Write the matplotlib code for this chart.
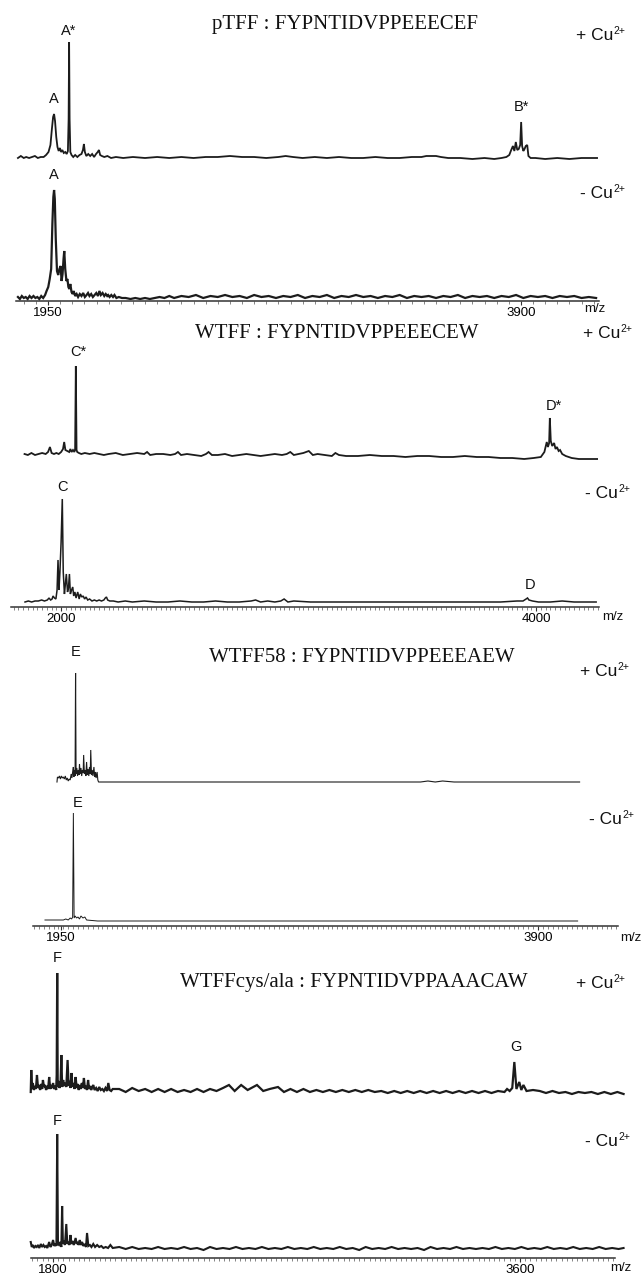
import numpy as np
import matplotlib
matplotlib.use('Agg')
from matplotlib import pyplot as plt
from matplotlib.ticker import MultipleLocator

W, H = 641, 1276
plt.rcParams['font.family'] = 'Liberation Sans'

# ---------------- data: (m/z, intensity above baseline) ----------------
# pTFF
p1_plus_mz = [1826, 1838, 1850, 1860, 1872, 1884, 1896, 1908, 1920, 1932,
              1942, 1952, 1960, 1966, 1971, 1975, 1979, 1984, 1989, 1994,
              1999, 2004, 2009, 2015, 2021, 2027, 2032, 2035, 2037, 2039,
              2042, 2047, 2054, 2062, 2071, 2080, 2088, 2094, 2098, 2102,
              2108, 2116, 2124, 2132, 2140, 2148, 2155, 2160, 2165, 2172,
              2182, 2195, 2210, 2230, 2260, 2300, 2350, 2400, 2450, 2500,
              2550, 2600, 2650, 2700, 2750, 2800, 2850, 2900, 2930, 2960,
              3000, 3050, 3100, 3150, 3200, 3250, 3300, 3350, 3400, 3450,
              3490, 3510, 3530, 3550, 3570, 3600, 3650, 3700, 3750, 3790,
              3820, 3840, 3852, 3860, 3867, 3873, 3879, 3885, 3891, 3897,
              3901, 3905, 3910, 3915, 3920, 3926, 3931, 3940, 3960, 4000,
              4050, 4100, 4150, 4214]
p1_plus_h = [1, 3, 1, 2, 1, 2, 3, 1, 2, 2,
             4, 7, 14, 30, 42, 45, 38, 22, 12, 8,
             11, 7, 9, 6, 7, 5, 8, 40, 117, 40,
             7, 4, 2, 4, 2, 4, 5, 9, 15, 7,
             3, 5, 3, 5, 2, 5, 7, 9, 4, 3,
             2, 3, 1, 2, 1, 2, 1, 2, 1, 2,
             1, 2, 2, 3, 2, 2, 1, 2, 3, 2,
             1, 2, 1, 2, 1, 1, 2, 1, 1, 2,
             2, 3, 3, 3, 2, 1, 1, 0, 1, 0,
             1, 2, 4, 9, 13, 8, 17, 9, 10, 14,
             37, 13, 8, 10, 13, 14, 3, 1, 1, 0,
             1, 0, 1, 1]
p1_minus_mz = [1826, 1834, 1842, 1850, 1858, 1866, 1874, 1882, 1890, 1898,
               1906, 1914, 1922, 1930, 1938, 1944, 1951, 1957, 1963, 1968,
               1972, 1975, 1978, 1982, 1987, 1992, 1997, 2002, 2006, 2010,
               2014, 2017, 2021, 2026, 2030, 2034, 2038, 2042, 2047, 2052,
               2056, 2062, 2068, 2074, 2081, 2088, 2095, 2102, 2109, 2115,
               2121, 2128, 2135, 2142, 2149, 2156, 2162, 2168, 2175, 2182,
               2188, 2194, 2198, 2204, 2211, 2218, 2224, 2232, 2242, 2255,
               2270, 2290, 2310, 2330, 2350, 2370, 2390, 2410, 2430, 2450,
               2470, 2500, 2530, 2560, 2590, 2620, 2650, 2680, 2710, 2740,
               2770, 2800, 2830, 2860, 2890, 2920, 2950, 2980, 3010, 3040,
               3070, 3100, 3130, 3160, 3190, 3220, 3250, 3280, 3310, 3340,
               3370, 3400, 3430, 3460, 3490, 3520, 3550, 3580, 3610, 3640,
               3670, 3700, 3730, 3760, 3790, 3820, 3850, 3880, 3910, 3940,
               3970, 4000, 4030, 4060, 4090, 4120, 4150, 4180, 4210]
p1_minus_h = [2, 0, 3, 1, 2, 0, 3, 1, 3, 1,
              2, 0, 3, 1, 4, 8, 12, 20, 30, 75,
              102, 109, 100, 60, 28, 24, 30, 33, 18, 25,
              40, 48, 30, 18, 20, 12, 10, 15, 7, 5,
              8, 3, 5, 2, 5, 3, 6, 2, 4, 6,
              3, 5, 2, 4, 6, 3, 8, 4, 6, 3,
              5, 3, 4, 2, 4, 2, 4, 1, 2, 1,
              1, 0, 1, 0, 1, 0, 1, 2, 1, 3,
              1, 3, 2, 4, 1, 3, 2, 4, 2, 3,
              1, 4, 2, 3, 1, 3, 2, 4, 1, 3,
              2, 4, 1, 3, 2, 4, 2, 3, 1, 3,
              2, 4, 1, 3, 2, 3, 1, 3, 2, 4,
              1, 3, 2, 3, 1, 3, 2, 4, 1, 3,
              2, 3, 1, 3, 2, 3, 1, 2, 1]

# WTFF
p2_plus_mz = [1846, 1860, 1875, 1890, 1905, 1920, 1935, 1945, 1953, 1960,
              1970, 1980, 1990, 2000, 2008, 2013, 2018, 2026, 2034, 2039,
              2044, 2050, 2056, 2059, 2062, 2065, 2068, 2075, 2085, 2100,
              2120, 2140, 2160, 2180, 2200, 2230, 2260, 2290, 2320, 2350,
              2362, 2375, 2400, 2430, 2460, 2480, 2492, 2505, 2530, 2560,
              2590, 2610, 2621, 2635, 2660, 2690, 2720, 2750, 2780, 2810,
              2840, 2870, 2900, 2930, 2950, 2965, 2980, 3000, 3020, 3043,
              3060, 3080, 3110, 3140, 3155, 3170, 3200, 3250, 3300, 3350,
              3400, 3450, 3500, 3550, 3600, 3650, 3700, 3750, 3800, 3850,
              3900, 3950, 3990, 4020, 4035, 4045, 4050, 4055, 4058, 4062,
              4068, 4076, 4082, 4088, 4095, 4101, 4110, 4125, 4150, 4180,
              4210, 4257]
p2_plus_h = [1, 0, 2, 0, 1, 2, 1, 3, 8, 2,
             1, 2, 1, 3, 6, 13, 5, 4, 3, 6,
             3, 5, 3, 6, 89, 5, 3, 2, 1, 2,
             1, 2, 1, 0, 1, 2, 0, 1, 2, 1,
             3, 0, 1, 1, 0, 1, 3, 0, 1, 0,
             -1, 1, 3, 0, 0, 1, -1, 0, 1, 0,
             -1, 0, 1, 0, 1, 3, 0, 1, 2, 4,
             0, 1, 0, -1, 2, 0, -1, -1, 0, -1,
             -1, -2, -1, -1, -2, -2, -1, -2, -2, -3,
             -3, -4, -3, -2, 3, 13, 8, 12, 37, 14,
             9, 12, 6, 8, 4, 5, 1, -1, -3, -4,
             -4, -4]
p2_minus_mz = [1848, 1862, 1876, 1890, 1904, 1918, 1930, 1942, 1949, 1956,
               1962, 1966, 1972, 1978, 1983, 1987, 1991, 1995, 2000, 2005,
               2009, 2014, 2018, 2022, 2027, 2031, 2035, 2039, 2044, 2049,
               2053, 2058, 2063, 2070, 2076, 2081, 2087, 2093, 2099, 2105,
               2112, 2120, 2130, 2140, 2150, 2160, 2170, 2180, 2186, 2191,
               2196, 2205, 2220, 2240, 2270, 2300, 2350, 2400, 2450, 2500,
               2550, 2600, 2650, 2700, 2750, 2800, 2819, 2840, 2870, 2900,
               2925, 2939, 2955, 2980, 3050, 3150, 3250, 3350, 3450, 3550,
               3650, 3750, 3850, 3920, 3945, 3958, 3964, 3970, 3985, 4010,
               4060, 4110, 4160, 4210, 4253]
p2_minus_h = [0, 1, 0, 1, 1, 2, 1, 2, 4, 2,
              3, 6, 4, 3, 12, 42, 12, 30, 60, 103,
              30, 8, 18, 28, 10, 14, 28, 8, 12, 15,
              6, 10, 4, 10, 3, 8, 5, 6, 3, 5,
              2, 3, 1, 2, 1, 2, 1, 2, 4, 5,
              2, 1, 1, 0, 1, 0, 1, 0, 0, 1,
              0, 0, 1, 0, 0, 1, 2, 0, 1, 0,
              1, 3, 0, 1, 0, 0, 0, 0, 0, 0,
              0, 0, 0, 1, 1, 3, 4, 2, 1, 0,
              0, 1, 0, 0, 0]

# WTFF58
p3_plus_mz = [1934, 1936, 1940, 1944, 1948, 1952, 1956, 1960, 1964, 1968,
              1972, 1976, 1980, 1984, 1988, 1992, 1995, 1998, 2001, 2003,
              2006, 2008, 2010, 2012, 2015, 2018, 2021, 2024, 2026, 2029,
              2032, 2035, 2038, 2041, 2043, 2046, 2049, 2052, 2055, 2058,
              2061, 2064, 2067, 2070, 2072, 2075, 2078, 2081, 2085, 2088,
              2091, 2094, 2098, 2101, 2104, 2150, 2300, 2450, 2600, 2750,
              2900, 3050, 3200, 3350, 3420, 3450, 3480, 3510, 3557, 3700,
              3850, 4000, 4070]
p3_plus_h = [0, 5, 4, 6, 3, 6, 4, 5, 3, 6,
             2, 4, 1, 3, 2, 8, 4, 10, 15, 5,
             12, 6, 109, 8, 14, 6, 12, 7, 18, 8,
             14, 6, 12, 9, 27, 8, 12, 6, 20, 7,
             13, 6, 15, 8, 32, 7, 12, 6, 15, 5,
             10, 4, 10, 2, 0, 0, 0, 0, 0, 0,
             0, 0, 0, 0, 0, 1, 0, 1, 0, 0,
             0, 0, 0]
p3_minus_mz = [1885, 1900, 1915, 1930, 1945, 1960, 1970, 1980, 1988, 1994,
               1998, 2001, 2004, 2008, 2014, 2020, 2026, 2032, 2040, 2048,
               2055, 2100, 2200, 2400, 2600, 2800, 3000, 3200, 3420, 3557,
               3700, 3900, 4062]
p3_minus_h = [1, 1, 1, 1, 1, 1, 2, 1, 3, 2,
              4, 108, 3, 5, 3, 4, 2, 5, 3, 4,
              1, 0, 0, 0, 0, 0, 0, 0, 0, 0,
              0, 0, 0]

# WTFFcys/ala
p4_plus_mz = [1714, 1716, 1719, 1722, 1726, 1730, 1734, 1738, 1742, 1746,
              1750, 1754, 1758, 1761, 1765, 1769, 1773, 1777, 1781, 1785,
              1789, 1793, 1797, 1800, 1804, 1808, 1812, 1814, 1816, 1818,
              1821, 1825, 1829, 1832, 1835, 1839, 1843, 1847, 1851, 1856,
              1860, 1864, 1867, 1871, 1875, 1879, 1883, 1887, 1891, 1895,
              1899, 1903, 1907, 1911, 1915, 1919, 1923, 1927, 1931, 1935,
              1939, 1943, 1947, 1951, 1955, 1960, 1966, 1972, 1978, 1984,
              1990, 1996, 2002, 2008, 2013, 2018, 2024, 2030,
              2055, 2080, 2105, 2130, 2155, 2180, 2205, 2230, 2255, 2280,
              2305, 2330, 2355, 2380, 2405, 2430, 2455, 2478, 2500, 2525,
              2550, 2586, 2610, 2635, 2667, 2690, 2715, 2740, 2765, 2790,
              2815, 2840, 2865, 2890, 2915, 2940, 2965, 2990, 3015, 3040,
              3065, 3090, 3115, 3140, 3165, 3190, 3215, 3240, 3265, 3290,
              3315, 3340, 3365, 3390, 3415, 3440, 3465, 3490, 3515, 3540,
              3550, 3560, 3570, 3578, 3586, 3597, 3605, 3613, 3625, 3650,
              3676, 3700, 3725, 3750, 3775, 3800, 3825, 3850, 3875, 3900,
              3925, 3950, 3975, 3999]
p4_plus_h = [3, 25, 6, 12, 5, 9, 6, 20, 7, 10,
             5, 11, 6, 15, 8, 10, 5, 9, 6, 18,
             6, 10, 7, 12, 6, 9, 5, 20, 122, 8,
             14, 7, 12, 40, 8, 15, 9, 12, 8, 35,
             9, 14, 7, 22, 8, 12, 6, 18, 7, 11,
             5, 10, 6, 12, 7, 17, 6, 9, 5, 15,
             6, 9, 5, 8, 10, 5, 7, 4, 8, 5,
             6, 4, 7, 4, 12, 5, 4, 6,
             6, 3, 7, 4, 6, 3, 6, 3, 6, 3,
             5, 3, 6, 3, 6, 4, 7, 10, 4, 10,
             5, 10, 4, 6, 8, 3, 6, 3, 6, 3,
             5, 3, 5, 3, 5, 3, 5, 3, 5, 3,
             4, 2, 4, 2, 4, 2, 4, 2, 4, 2,
             4, 2, 4, 2, 4, 2, 4, 2, 4, 3,
             6, 4, 7, 33, 6, 13, 5, 10, 4, 5,
             4, 2, 4, 2, 3, 1, 3, 2, 3, 1,
             3, 1, 3, 1]
p4_minus_mz = [1714, 1718, 1722, 1727, 1732, 1737, 1742, 1747, 1753, 1758,
               1763, 1768, 1773, 1778, 1785, 1790, 1795, 1800, 1805, 1810,
               1813, 1816, 1819, 1823, 1828, 1832, 1835, 1838, 1842, 1846,
               1851, 1855, 1859, 1863, 1867, 1871, 1875, 1880, 1887, 1891,
               1895, 1899, 1903, 1907, 1912, 1917, 1922, 1927, 1931, 1936,
               1942, 1948, 1955, 1962, 1970, 1978, 1986, 1994, 2003, 2012,
               2021, 2030,
               2055, 2080, 2105, 2130, 2155, 2180, 2205, 2230, 2255, 2280,
               2305, 2330, 2355, 2380, 2405, 2430, 2455, 2480, 2505, 2530,
               2555, 2580, 2605, 2630, 2655, 2680, 2705, 2730, 2755, 2780,
               2805, 2830, 2855, 2880, 2905, 2930, 2955, 2980, 3005, 3030,
               3055, 3080, 3105, 3130, 3155, 3180, 3205, 3230, 3255, 3280,
               3305, 3330, 3355, 3380, 3405, 3430, 3455, 3480, 3505, 3530,
               3555, 3580, 3605, 3630, 3655, 3680, 3705, 3730, 3755, 3780,
               3805, 3830, 3855, 3880, 3905, 3930, 3955, 3980, 3999]
p4_minus_h = [8, 3, 5, 2, 4, 3, 5, 2, 6, 3,
              5, 3, 4, 2, 8, 3, 5, 10, 4, 6,
              4, 116, 6, 5, 8, 3, 44, 6, 9, 5,
              26, 6, 8, 5, 15, 6, 9, 5, 12, 6,
              8, 5, 10, 5, 8, 4, 6, 3, 17, 4,
              5, 3, 6, 3, 5, 3, 4, 2, 3, 2,
              5, 2,
              3, 1, 3, 1, 2, 1, 3, 1, 2, 1,
              3, 1, 2, 0, 3, 1, 2, 1, 3, 1,
              2, 1, 3, 1, 2, 1, 3, 1, 2, 1,
              3, 1, 2, 1, 3, 1, 2, 0, 3, 1,
              2, 1, 3, 1, 2, 1, 2, 0, 3, 1,
              2, 1, 3, 1, 2, 1, 2, 1, 3, 1,
              2, 1, 3, 1, 2, 1, 3, 1, 2, 1,
              3, 1, 2, 1, 3, 1, 2, 1, 2]

# peak letters and the m/z of the peak they sit on
p1_plus_peaks = [('A', 1975), ('A*', 2037), ('B*', 3901)]
p1_minus_peaks = [('A', 1975)]
p2_plus_peaks = [('C*', 2062), ('D*', 4058)]
p2_minus_peaks = [('C', 2005), ('D', 3964)]
p3_plus_peaks = [('E', 2010)]
p3_minus_peaks = [('E', 2001)]
p4_plus_peaks = [('F', 1816), ('G', 3578)]
p4_minus_peaks = [('F', 1816)]

titles = ['pTFF : FYPNTIDVPPEEECEF', 'WTFF : FYPNTIDVPPEEECEW',
          'WTFF58 : FYPNTIDVPPEEEAEW', 'WTFFcys/ala : FYPNTIDVPPAAACAW']
tick_values = [[1950, 3900], [2000, 4000], [1950, 3900], [1800, 3600]]

# ---------------- layout (pixels in the 641x1276 picture) ----------------
layout = [
    dict(x0=16, x1=599, xlim=(1818, 4222), base_p=159, base_m=299, axis_y=301,
         title_xy=(345, 25), plus_xy=(576, 35), minus_xy=(580, 193), mz_xy=(595, 309),
         minor=50, lw_p=1.3, lw_m=1.6, lab_off=[(0, 15), (0, 11), (0, 15)], lab_off_m=[(0, 15)]),
    dict(x0=11, x1=599, xlim=(1789, 4265), base_p=455, base_m=602, axis_y=607,
         title_xy=(337, 333), plus_xy=(583, 333), minus_xy=(585, 493), mz_xy=(613, 617),
         minor=20, lw_p=1.3, lw_m=1.1, lab_off=[(2, 14), (4, 12)], lab_off_m=[(0, 12), (3, 13)]),
    dict(x0=33, x1=618, xlim=(1836, 4227), base_p=782, base_m=921, axis_y=926,
         title_xy=(362, 657), plus_xy=(580, 672), minus_xy=(589, 820), mz_xy=(631, 938),
         minor=20, lw_p=0.8, lw_m=0.7, lab_off=[(0, 21)], lab_off_m=[(4, 10)]),
    dict(x0=31, x1=615, xlim=(1715, 3966), base_p=1095, base_m=1250, axis_y=1258,
         title_xy=(354, 982), plus_xy=(576, 983), minus_xy=(585, 1142), mz_xy=(621, 1268),
         minor=20, lw_p=1.6, lw_m=1.5, lab_off=[(0, 15), (2, 15)], lab_off_m=[(0, 13)]),
]
traces = [
    ((p1_plus_mz, p1_plus_h, p1_plus_peaks), (p1_minus_mz, p1_minus_h, p1_minus_peaks)),
    ((p2_plus_mz, p2_plus_h, p2_plus_peaks), (p2_minus_mz, p2_minus_h, p2_minus_peaks)),
    ((p3_plus_mz, p3_plus_h, p3_plus_peaks), (p3_minus_mz, p3_minus_h, p3_minus_peaks)),
    ((p4_plus_mz, p4_plus_h, p4_plus_peaks), (p4_minus_mz, p4_minus_h, p4_minus_peaks)),
]

fig = plt.figure(figsize=(W / 100, H / 100), dpi=100)
renderer = fig.canvas.get_renderer()


def px_axes(x0, x1, ybot, ytop):
    ax = fig.add_axes([x0 / W, 1 - ybot / H, (x1 - x0) / W, (ybot - ytop) / H])
    ax.patch.set_alpha(0)
    return ax


def ftext(x, y, s, **kw):
    return fig.text(x / W, 1 - y / H, s, **kw)


def cu_label(x, y, sign):
    # "+ Cu" with a small raised "2+" right after it
    t = ftext(x, y, sign + ' Cu', ha='left', va='center', fontsize=12.5, color='#111')
    bb = t.get_window_extent(renderer)
    fig.text((bb.x1 + 0.5) / W, 1 - (y - 4.5) / H, '2+', ha='left', va='center',
             fontsize=7.5, color='#111')


def draw_trace(ax, mz, h, peaks, offs, lw, xlim, color='#1c1c1c'):
    ax.plot(mz, h, color=color, lw=lw, clip_on=False, solid_joinstyle='miter')
    for (name, m), (dx, dy) in zip(peaks, offs):
        top = h[mz.index(m)]
        ax.annotate(name, (m, top), xytext=(dx, dy), textcoords='offset pixels',
                    ha='center', va='center', fontsize=10.5, color='#111')
    ax.set_xlim(*xlim)
    ax.set_ylim(0, 140)
    ax.axis('off')


for i, L in enumerate(layout):
    plus, minus = traces[i]
    axp = px_axes(L['x0'], L['x1'], L['base_p'], L['base_p'] - 140)
    draw_trace(axp, plus[0], plus[1], plus[2], L['lab_off'], L['lw_p'], L['xlim'])
    axm = px_axes(L['x0'], L['x1'], L['base_m'], L['base_m'] - 140)
    draw_trace(axm, minus[0], minus[1], minus[2], L['lab_off_m'], L['lw_m'], L['xlim'])

    # the m/z axis of the panel
    axx = px_axes(L['x0'], L['x1'], L['axis_y'], L['axis_y'] - 2)
    for s in ['top', 'left', 'right']:
        axx.spines[s].set_visible(False)
    axx.spines['bottom'].set_color('#333')
    axx.spines['bottom'].set_linewidth(1.1)
    axx.set_yticks([])
    axx.set_xlim(*L['xlim'])
    axx.set_xticks(tick_values[i])
    axx.set_xticklabels([str(t) for t in tick_values[i]], fontsize=9.5)
    axx.xaxis.set_minor_locator(MultipleLocator(L['minor']))
    axx.tick_params(axis='x', which='major', length=3, width=0.8, pad=1, color='#333')
    axx.tick_params(axis='x', which='minor', length=2, width=0.5, color='#555')

    ftext(*L['title_xy'], titles[i], ha='center', va='center', fontsize=15,
          family='Liberation Serif', color='#111')
    cu_label(*L['plus_xy'], '+')
    cu_label(*L['minus_xy'], '-')
    ftext(*L['mz_xy'], 'm/z', ha='center', va='center', fontsize=9.5, color='#111')

fig.savefig('out.png', dpi=100)
